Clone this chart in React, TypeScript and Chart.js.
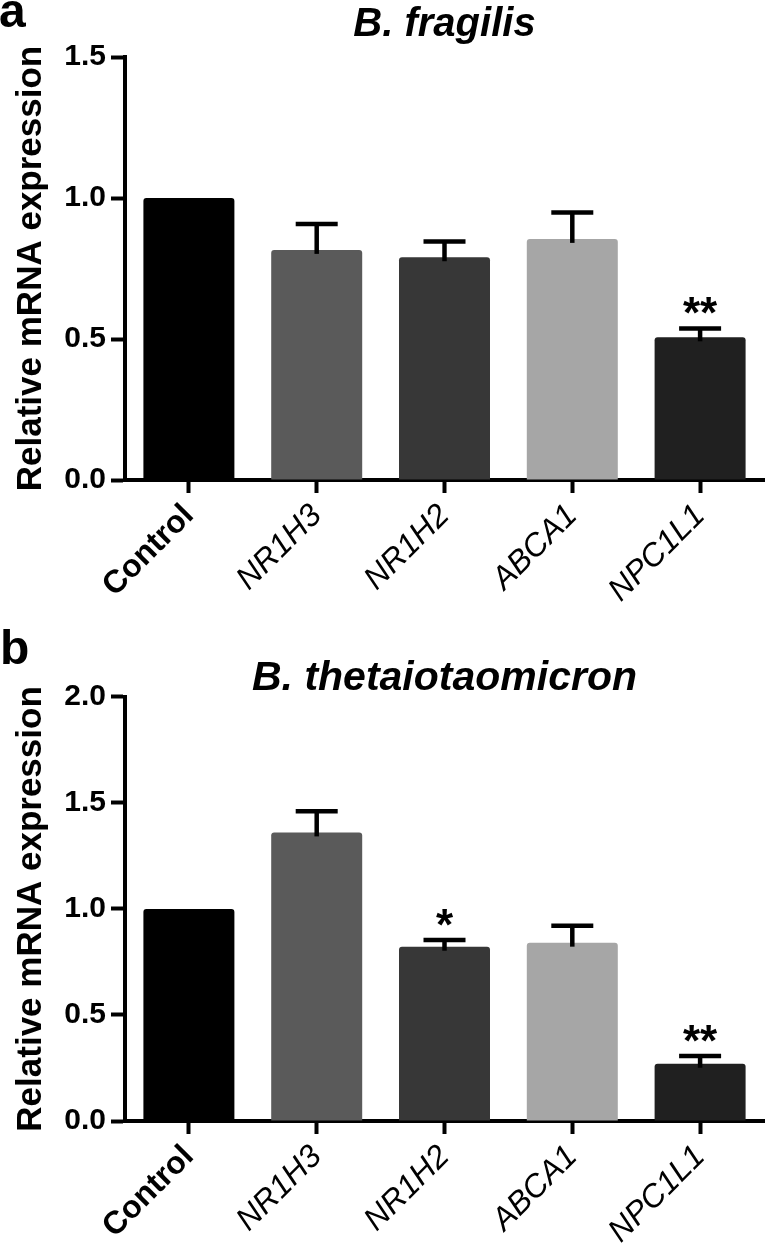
import React, { useEffect, useRef } from 'react';
import { Chart, registerables } from 'chart.js';

Chart.register(...registerables);

const categories = ['Control', 'NR1H3', 'NR1H2', 'ABCA1', 'NPC1L1'];
const barColors = ['#000000', '#5a5a5a', '#373737', '#a6a6a6', '#202020'];

const fragilisMean = [1.0, 0.816, 0.79, 0.855, 0.506];
const fragilisSem = [0, 0.092, 0.056, 0.094, 0.031];
const fragilisSig = ['', '', '', '', '**'];

const thetaMean = [1.0, 1.361, 0.822, 0.841, 0.27];
const thetaSem = [0, 0.1, 0.032, 0.08, 0.037];
const thetaSig = ['', '', '*', '', '**'];

const yAxisTitle = 'Relative mRNA expression';
const titleA = 'B. fragilis';
const titleB = 'B. thetaiotaomicron';
const yMaxA = 1.5;
const yMaxB = 2.0;
const yStep = 0.5;

const FONT = "'Liberation Sans', Arial, Helvetica, sans-serif";

const errorBarPlugin = {
  id: 'errorBars',
  afterDatasetsDraw(chart: any, _args: any, opts: any) {
    const meta = chart.getDatasetMeta(0);
    const yScale = chart.scales.y;
    const ctx = chart.ctx;
    const data = chart.data.datasets[0].data as number[];
    ctx.save();
    ctx.strokeStyle = '#000';
    ctx.fillStyle = '#000';
    ctx.lineWidth = opts.lineWidth;
    ctx.lineCap = 'butt';
    meta.data.forEach((bar: any, i: number) => {
      const s = opts.sem[i] || 0;
      const yTop = yScale.getPixelForValue(data[i] + s);
      if (s > 0) {
        ctx.beginPath();
        ctx.moveTo(bar.x, bar.y + 4);
        ctx.lineTo(bar.x, yTop);
        ctx.stroke();
        ctx.beginPath();
        ctx.moveTo(bar.x - opts.capWidth / 2, yTop);
        ctx.lineTo(bar.x + opts.capWidth / 2, yTop);
        ctx.stroke();
      }
      const label = opts.sig[i];
      if (label) {
        ctx.font = `bold 44px ${FONT}`;
        ctx.textAlign = 'center';
        ctx.textBaseline = 'alphabetic';
        ctx.fillText(label, bar.x, yTop - opts.lineWidth / 2 + 2);
      }
    });
    ctx.restore();
  },
};

type PanelProps = {
  mean: number[];
  sem: number[];
  sig: string[];
  title: string;
  yMax: number;
  height: number;
  titleSize: number;
  titleLineHeight: number;
  titlePadTop: number;
  titlePadBottom: number;
  xScaleHeight: number;
};

function Panel(p: PanelProps) {
  const ref = useRef<HTMLCanvasElement | null>(null);
  useEffect(() => {
    if (!ref.current) return;
    const chart = new Chart(ref.current, {
      type: 'bar',
      data: {
        labels: categories,
        datasets: [
          {
            data: p.mean,
            backgroundColor: barColors,
            borderWidth: 0,
            borderRadius: 3,
            categoryPercentage: 1,
            barPercentage: 0.712,
          },
        ],
      },
      plugins: [errorBarPlugin],
      options: {
        responsive: false,
        animation: false,
        layout: { padding: { left: 0, right: 4, top: 0, bottom: 0 } },
        plugins: {
          legend: { display: false },
          tooltip: { enabled: false },
          title: {
            display: true,
            fullSize: false,
            text: p.title,
            color: '#000',
            font: { family: FONT, size: p.titleSize, weight: 'bold', style: 'italic', lineHeight: p.titleLineHeight },
            padding: { top: p.titlePadTop, bottom: p.titlePadBottom },
          },
          errorBars: { sem: p.sem, sig: p.sig, lineWidth: 4.5, capWidth: 42 },
        } as any,
        scales: {
          x: {
            offset: true,
            grid: {
              offset: false,
              drawOnChartArea: false,
              drawTicks: true,
              tickLength: 13,
              tickWidth: 4,
              tickColor: '#000',
              color: '#000',
            },
            border: { display: true, color: '#000', width: 4 },
            ticks: {
              autoSkip: false,
              minRotation: 45,
              maxRotation: 45,
              color: '#000',
              padding: 4,
              font: (c: any) =>
                c.index === 0
                  ? { family: FONT, size: 32, weight: 'bold', style: 'normal' }
                  : { family: FONT, size: 32, weight: 'normal', style: 'italic' },
            },
            afterFit: (scale: any) => {
              scale.height = p.xScaleHeight;
              scale.paddingLeft = 0;
              scale.paddingRight = 0;
            },
          },
          y: {
            min: 0,
            max: p.yMax,
            grid: {
              drawOnChartArea: false,
              drawTicks: true,
              tickLength: 14,
              tickWidth: 4,
              tickColor: '#000',
              color: '#000',
            },
            border: { display: true, color: '#000', width: 4 },
            ticks: {
              stepSize: yStep,
              color: '#000',
              padding: 5,
              font: { family: FONT, size: 30, weight: 'bold' },
              callback: (v: any) => Number(v).toFixed(1),
            },
            title: {
              display: true,
              text: yAxisTitle,
              color: '#000',
              font: { family: FONT, size: 35, weight: 'bold', lineHeight: 1.2 },
              padding: { top: 10, bottom: 0 },
            },
            afterFit: (scale: any) => {
              scale.width = 125;
            },
          },
        },
      } as any,
    });
    return () => chart.destroy();
  }, []);
  return <canvas ref={ref} width={768} height={p.height} style={{ display: 'block' }} />;
}

export default function App() {
  const letterStyle: React.CSSProperties = {
    position: 'absolute',
    fontFamily: FONT,
    fontWeight: 'bold',
    fontSize: 48,
    lineHeight: '48px',
    color: '#000',
  };
  return (
    <div style={{ position: 'absolute', left: 0, top: 0, width: 768, height: 1254, background: '#fff' }}>
      <Panel
        mean={fragilisMean}
        sem={fragilisSem}
        sig={fragilisSig}
        title={titleA}
        yMax={yMaxA}
        height={610}
        titleSize={40}
        titleLineHeight={1}
        titlePadTop={5}
        titlePadBottom={12}
        xScaleHeight={130}
      />
      <Panel
        mean={thetaMean}
        sem={thetaSem}
        sig={thetaSig}
        title={titleB}
        yMax={yMaxB}
        height={644}
        titleSize={41}
        titleLineHeight={0.9}
        titlePadTop={50}
        titlePadBottom={0}
        xScaleHeight={133}
      />
      <div style={{ ...letterStyle, left: -1, top: -13 }}>a</div>
      <div style={{ ...letterStyle, left: 0, top: 624 }}>b</div>
    </div>
  );
}
